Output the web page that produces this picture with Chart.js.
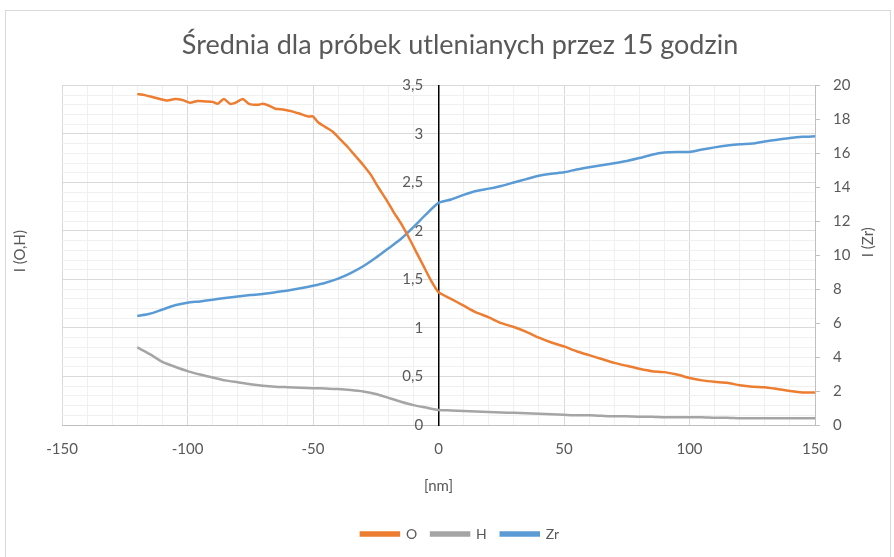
<!DOCTYPE html>
<html>
<head>
<meta charset="utf-8">
<title>Średnia dla próbek utlenianych przez 15 godzin</title>
<script src="https://cdn.jsdelivr.net/npm/chart.js@4/dist/chart.umd.min.js"></script>
<style>
  body { margin: 0; background: #fff; }
  #wrap { position: relative; width: 894px; height: 557px; }
  #frame { position: absolute; left: 5px; top: 10px; width: 884px; height: 560px; border: 1px solid #D9D9D9; pointer-events: none; }
  canvas { position: absolute; left: 0; top: 0; }
</style>
</head>
<body>
<div id="wrap">
  <canvas id="myChart" width="894" height="557"></canvas>
  <div id="frame"></div>
</div>
<script>
// depth [nm] for the O profile (denser where the curve wiggles)
const depthO = [-120, -117, -114, -111, -108, -105, -102, -99, -96, -93, -90, -88, -85.5, -83, -81, -78, -75.5, -72, -70, -67.5,
  -65, -61.5, -58, -55.5, -52, -50, -48, -45, -42, -39, -36, -33, -30, -27, -24, -21, -18, -15, -12, -9, -6, -3,
  0, 5, 10, 15, 20, 25, 30, 35, 40, 45, 50, 55, 60, 65, 70, 75, 80, 85, 90, 95, 100, 105, 110, 115, 120, 125, 130, 135, 140, 145, 150];
const intensityO = [3.41, 3.40, 3.38, 3.36, 3.345, 3.36, 3.35, 3.32, 3.34, 3.335, 3.33, 3.31, 3.36, 3.31, 3.32, 3.36, 3.31, 3.30, 3.31, 3.29,
  3.26, 3.25, 3.23, 3.21, 3.18, 3.18, 3.12, 3.07, 3.02, 2.94, 2.86, 2.77, 2.68, 2.58, 2.45, 2.33, 2.20, 2.08, 1.94, 1.79, 1.64, 1.49,
  1.37, 1.30, 1.23, 1.16, 1.11, 1.05, 1.01, 0.96, 0.90, 0.85, 0.81, 0.76, 0.72, 0.68, 0.64, 0.61, 0.58, 0.555, 0.545, 0.52, 0.485,
  0.46, 0.445, 0.435, 0.41, 0.395, 0.39, 0.37, 0.35, 0.335, 0.335];

// depth [nm] for H and Zr
const depth = [-120, -115, -110, -105, -100, -95, -90, -85, -80, -75, -70, -65, -60, -55, -50, -45, -40, -35, -30, -25, -20, -15, -10, -5,
  0, 5, 10, 15, 20, 25, 30, 35, 40, 45, 50, 55, 60, 65, 70, 75, 80, 85, 90, 95, 100, 105, 110, 115, 120, 125, 130, 135, 140, 145, 150];
const intensityH = [0.80, 0.73, 0.65, 0.60, 0.555, 0.52, 0.49, 0.46, 0.44, 0.42, 0.405, 0.395, 0.39, 0.385, 0.38, 0.375, 0.37, 0.36, 0.345, 0.32, 0.28, 0.24, 0.205, 0.18,
  0.155, 0.15, 0.145, 0.14, 0.135, 0.13, 0.125, 0.12, 0.115, 0.11, 0.105, 0.10, 0.10, 0.095, 0.09, 0.09, 0.085, 0.085, 0.08, 0.08, 0.08,
  0.08, 0.075, 0.075, 0.07, 0.07, 0.07, 0.07, 0.07, 0.07, 0.07];
const intensityZr = [6.42, 6.55, 6.80, 7.05, 7.20, 7.28, 7.38, 7.48, 7.57, 7.65, 7.72, 7.82, 7.92, 8.05, 8.20, 8.38, 8.62, 8.95, 9.35, 9.85, 10.40, 10.95, 11.65, 12.40,
  13.08, 13.28, 13.55, 13.78, 13.92, 14.08, 14.28, 14.48, 14.68, 14.80, 14.88, 15.05, 15.18, 15.30, 15.42, 15.55, 15.72, 15.92, 16.05, 16.08, 16.08,
  16.22, 16.35, 16.46, 16.54, 16.58, 16.70, 16.80, 16.90, 16.97, 17.0];

const seriesNames = ['O', 'H', 'Zr'];
const seriesColors = ['#ED7D31', '#A5A5A5', '#5B9BD5'];
const axisTitles = ['I (O,H)', 'I (Zr)', '[nm]'];

const FONT = 'Lato, "Open Sans", sans-serif';
const TEXT = '#595959';

function toPoints(xs, ys) {
    return xs.map((x, i) => ({ x: x, y: ys[i] }));
}

function isMultiple(v, step) {
    const r = v / step;
    return Math.abs(r - Math.round(r)) < 1e-6;
}

// both y axis titles, read bottom to top
const sideTitles = {
    id: 'sideTitles',
    afterDraw(chart) {
        const c = chart.ctx;
        const area = chart.chartArea;
        const midY = (area.top + area.bottom) / 2;
        const put = (text, x, y) => {
            c.save();
            c.translate(x, y);
            c.rotate(-Math.PI / 2);
            c.font = '15px ' + FONT;
            c.fillStyle = TEXT;
            c.textAlign = 'center';
            c.textBaseline = 'middle';
            c.fillText(text, 0, 0);
            c.restore();
        };
        put(axisTitles[0], 20, midY - 4);
        put(axisTitles[1], chart.scales.yZr.right - 20, midY - 13);
    }
};

const ctx = document.getElementById('myChart');

const datasets = [
    { label: seriesNames[0], data: toPoints(depthO, intensityO), yAxisID: 'yO' },
    { label: seriesNames[1], data: toPoints(depth, intensityH), yAxisID: 'yO' },
    { label: seriesNames[2], data: toPoints(depth, intensityZr), yAxisID: 'yZr' }
].map((d, i) => Object.assign(d, {
    borderColor: seriesColors[i],
    backgroundColor: seriesColors[i],
    borderWidth: 2.5,
    pointRadius: 0,
    tension: 0.2
}));

const config = {
    type: 'line',
    data: { datasets },
    options: {
        responsive: false,
        animation: false,
        devicePixelRatio: 1,
        layout: { padding: { top: 10, left: 32, right: 6, bottom: 6 } },
        scales: {
            x: {
                type: 'linear',
                position: 'bottom',
                min: -150,
                max: 150,
                ticks: {
                    stepSize: 10,
                    autoSkip: false,
                    maxRotation: 0,
                    padding: 15,
                    color: TEXT,
                    font: { family: FONT, size: 15 },
                    callback: v => isMultiple(v, 50) ? String(v) : ''
                },
                grid: {
                    drawTicks: false,
                    color: c => isMultiple(c.tick.value, 50) ? '#D9D9D9' : '#F0F0F0'
                },
                border: { color: '#BFBFBF' },
                title: {
                    display: true,
                    text: axisTitles[2],
                    color: TEXT,
                    font: { family: FONT, size: 15 },
                    padding: { top: 8, bottom: 18 }
                },
                afterFit: s => { s.height = 88; }
            },
            yO: {
                type: 'linear',
                position: { x: 0 },
                min: 0,
                max: 3.5,
                ticks: {
                    stepSize: 0.1,
                    autoSkip: false,
                    color: TEXT,
                    font: { family: FONT, size: 15 },
                    // trailing spaces keep the labels off the zero line
                    callback: v => isMultiple(v, 0.5) ? String(Math.round(v * 10) / 10).replace('.', ',') + '    ' : ''
                },
                grid: {
                    drawTicks: false,
                    color: c => isMultiple(c.tick.value, 0.5) ? '#D9D9D9' : '#F0F0F0'
                },
                border: { color: '#000000', width: 1.5 }
            },
            // empty spacer on the left, room for the rotated title
            yT: {
                type: 'linear',
                position: 'left',
                display: true,
                ticks: { display: false },
                grid: { display: false, drawTicks: false },
                border: { display: false },
                afterFit: s => { s.width = 30; }
            },
            yZr: {
                type: 'linear',
                position: 'right',
                min: 0,
                max: 20,
                ticks: {
                    stepSize: 2,
                    padding: 13,
                    color: TEXT,
                    font: { family: FONT, size: 15 },
                },
                grid: {
                    drawOnChartArea: false,
                    drawTicks: true,
                    tickLength: 5,
                    tickColor: '#BFBFBF'
                },
                border: { color: '#BFBFBF' },
                afterFit: s => { s.width = 73; }
            }
        },
        plugins: {
            title: {
                display: true,
                text: 'Średnia dla próbek utlenianych przez 15 godzin',
                color: TEXT,
                font: { family: FONT, size: 27, weight: 'normal' },
                padding: { top: 19, bottom: 24 }
            },
            legend: {
                position: 'bottom',
                labels: {
                    color: TEXT,
                    font: { family: FONT, size: 14 },
                    boxWidth: 38,
                    boxHeight: 3,
                    padding: 14
                }
            },
            tooltip: { enabled: false }
        }
    },
    plugins: [sideTitles]
};

const myChart = new Chart(ctx, config);
</script>
</body>
</html>
